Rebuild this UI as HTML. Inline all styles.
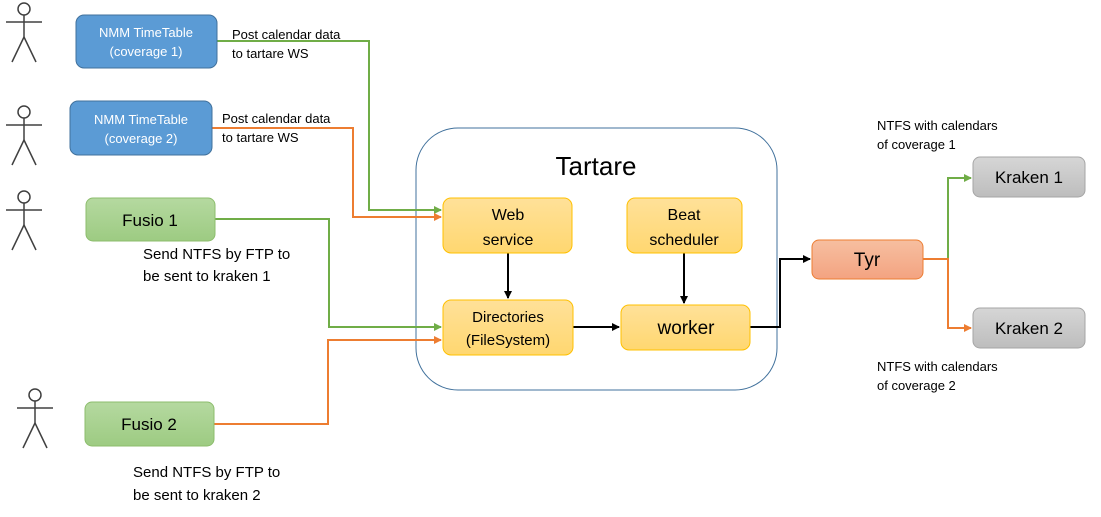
<!DOCTYPE html>
<html><head><meta charset="utf-8"><style>
html,body{margin:0;padding:0;background:#fff;width:1101px;height:517px;overflow:hidden}
text{font-family:"Liberation Sans",sans-serif}
</style></head><body>
<svg width="1101" height="517" viewBox="0 0 1101 517" xmlns="http://www.w3.org/2000/svg">
<defs>
<marker id="ag" markerWidth="8" markerHeight="8" refX="7" refY="4" orient="auto" markerUnits="userSpaceOnUse"><path d="M0,0 L8,4 L0,8z" fill="#70ad47"/></marker>
<marker id="ao" markerWidth="8" markerHeight="8" refX="7" refY="4" orient="auto" markerUnits="userSpaceOnUse"><path d="M0,0 L8,4 L0,8z" fill="#ed7d31"/></marker>
<marker id="ak" markerWidth="8" markerHeight="8" refX="7" refY="4" orient="auto" markerUnits="userSpaceOnUse"><path d="M0,0 L8,4 L0,8z" fill="#000"/></marker>
<linearGradient id="gy" x1="0" y1="0" x2="0" y2="1"><stop offset="0" stop-color="#ffe199"/><stop offset="1" stop-color="#ffd770"/></linearGradient>
<linearGradient id="gg" x1="0" y1="0" x2="0" y2="1"><stop offset="0" stop-color="#b5d9a0"/><stop offset="1" stop-color="#9dcb82"/></linearGradient>
<linearGradient id="go" x1="0" y1="0" x2="0" y2="1"><stop offset="0" stop-color="#f6bfa0"/><stop offset="1" stop-color="#f4a381"/></linearGradient>
<linearGradient id="gr" x1="0" y1="0" x2="0" y2="1"><stop offset="0" stop-color="#d6d6d6"/><stop offset="1" stop-color="#bdbdbd"/></linearGradient>
<g id="actor" stroke="#404040" stroke-width="1.5" fill="none">
<circle cx="0" cy="0" r="6"/><line x1="0" y1="6" x2="0" y2="28"/><line x1="-18" y1="13" x2="18" y2="13"/><line x1="0" y1="28" x2="-12" y2="53"/><line x1="0" y1="28" x2="12" y2="53"/>
</g>
</defs>
<use href="#actor" x="24" y="9"/>
<use href="#actor" x="24" y="112"/>
<use href="#actor" x="24" y="197"/>
<use href="#actor" x="35" y="395"/>

<rect x="416" y="128" width="361" height="262" rx="42" fill="#fff" stroke="#41719c" stroke-width="1"/>
<text x="596" y="175" font-size="26" text-anchor="middle" fill="#000">Tartare</text>

<!-- lines -->
<polyline points="217,41 369,41 369,210 441,210" fill="none" stroke="#70ad47" stroke-width="2" marker-end="url(#ag)"/>
<polyline points="212,128 353,128 353,217 441,217" fill="none" stroke="#ed7d31" stroke-width="2" marker-end="url(#ao)"/>
<polyline points="215,219 329,219 329,327 441,327" fill="none" stroke="#70ad47" stroke-width="2" marker-end="url(#ag)"/>
<polyline points="214,424 328,424 328,340 441,340" fill="none" stroke="#ed7d31" stroke-width="2" marker-end="url(#ao)"/>
<line x1="508" y1="253" x2="508" y2="298" stroke="#000" stroke-width="2" marker-end="url(#ak)"/>
<line x1="684" y1="253" x2="684" y2="303" stroke="#000" stroke-width="2" marker-end="url(#ak)"/>
<line x1="573" y1="327" x2="619" y2="327" stroke="#000" stroke-width="2" marker-end="url(#ak)"/>
<polyline points="750,327 780,327 780,259 810,259" fill="none" stroke="#000" stroke-width="2" marker-end="url(#ak)"/>
<polyline points="923,259 948,259 948,178 971,178" fill="none" stroke="#70ad47" stroke-width="2" marker-end="url(#ag)"/>
<polyline points="923,259 948,259 948,328 971,328" fill="none" stroke="#ed7d31" stroke-width="2" marker-end="url(#ao)"/>

<!-- boxes -->
<rect x="76" y="15" width="141" height="53" rx="8" fill="#5b9bd5" stroke="#41719c"/>
<text x="146" y="37" font-size="13" fill="#fff" text-anchor="middle">NMM TimeTable</text>
<text x="146" y="56" font-size="13" fill="#fff" text-anchor="middle">(coverage 1)</text>
<rect x="70" y="101" width="142" height="54" rx="8" fill="#5b9bd5" stroke="#41719c"/>
<text x="141" y="124" font-size="13" fill="#fff" text-anchor="middle">NMM TimeTable</text>
<text x="141" y="143" font-size="13" fill="#fff" text-anchor="middle">(coverage 2)</text>
<rect x="86" y="198" width="129" height="43" rx="7" fill="url(#gg)" stroke="#8cbd6c"/>
<text x="150" y="226" font-size="17" text-anchor="middle">Fusio 1</text>
<rect x="85" y="402" width="129" height="44" rx="7" fill="url(#gg)" stroke="#8cbd6c"/>
<text x="149" y="430" font-size="17" text-anchor="middle">Fusio 2</text>

<rect x="443" y="198" width="129" height="55" rx="8" fill="url(#gy)" stroke="#ffc000"/>
<text x="508" y="220" font-size="16" text-anchor="middle">Web</text>
<text x="508" y="245" font-size="16" text-anchor="middle">service</text>
<rect x="627" y="198" width="115" height="55" rx="8" fill="url(#gy)" stroke="#ffc000"/>
<text x="684" y="220" font-size="16" text-anchor="middle">Beat</text>
<text x="684" y="245" font-size="16" text-anchor="middle">scheduler</text>
<rect x="443" y="300" width="130" height="55" rx="8" fill="url(#gy)" stroke="#ffc000"/>
<text x="508" y="322" font-size="15" text-anchor="middle">Directories</text>
<text x="508" y="345" font-size="15" text-anchor="middle">(FileSystem)</text>
<rect x="621" y="305" width="129" height="45" rx="8" fill="url(#gy)" stroke="#ffc000"/>
<text x="686" y="334" font-size="19" text-anchor="middle">worker</text>

<rect x="812" y="240" width="111" height="39" rx="7" fill="url(#go)" stroke="#ed7d31"/>
<text x="867" y="266" font-size="19" text-anchor="middle">Tyr</text>
<rect x="973" y="157" width="112" height="40" rx="7" fill="url(#gr)" stroke="#a5a5a5"/>
<text x="1029" y="183" font-size="17" text-anchor="middle">Kraken 1</text>
<rect x="973" y="308" width="112" height="40" rx="7" fill="url(#gr)" stroke="#a5a5a5"/>
<text x="1029" y="334" font-size="17" text-anchor="middle">Kraken 2</text>

<!-- labels -->
<text font-size="13"><tspan x="232" y="39">Post calendar data</tspan><tspan x="232" y="58">to tartare WS</tspan></text>
<text font-size="13"><tspan x="222" y="123">Post calendar data</tspan><tspan x="222" y="142">to tartare WS</tspan></text>
<text font-size="15"><tspan x="143" y="259">Send NTFS by FTP to</tspan><tspan x="143" y="281">be sent to kraken 1</tspan></text>
<text font-size="15"><tspan x="133" y="477">Send NTFS by FTP to</tspan><tspan x="133" y="500">be sent to kraken 2</tspan></text>
<text font-size="13"><tspan x="877" y="130">NTFS with calendars</tspan><tspan x="877" y="149">of coverage 1</tspan></text>
<text font-size="13"><tspan x="877" y="371">NTFS with calendars</tspan><tspan x="877" y="390">of coverage 2</tspan></text>
</svg>
</body></html>
